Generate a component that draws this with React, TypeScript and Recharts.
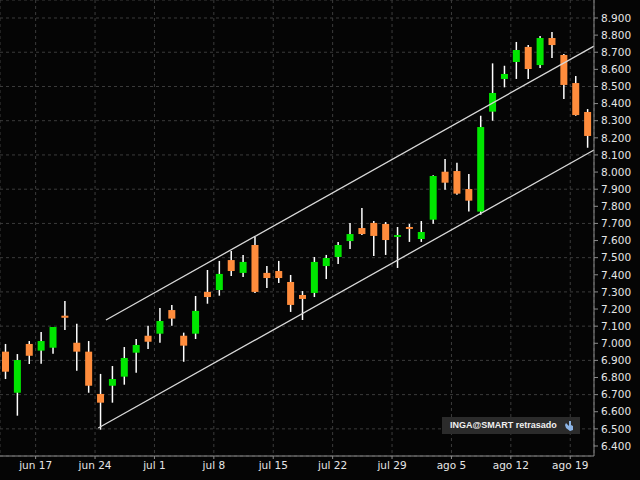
import { ComposedChart, Bar, XAxis, YAxis, CartesianGrid, ReferenceLine } from 'recharts';

// trading days, 12 jun - 20 ago
const dates = [
  'jun 12', 'jun 13', 'jun 14',
  'jun 17', 'jun 18', 'jun 19', 'jun 20', 'jun 21',
  'jun 24', 'jun 25', 'jun 26', 'jun 27', 'jun 28',
  'jul 1', 'jul 2', 'jul 3', 'jul 4', 'jul 5',
  'jul 8', 'jul 9', 'jul 10', 'jul 11', 'jul 12',
  'jul 15', 'jul 16', 'jul 17', 'jul 18', 'jul 19',
  'jul 22', 'jul 23', 'jul 24', 'jul 25', 'jul 26',
  'jul 29', 'jul 30', 'jul 31', 'ago 1', 'ago 2',
  'ago 5', 'ago 6', 'ago 7', 'ago 8', 'ago 9',
  'ago 12', 'ago 13', 'ago 14', 'ago 15', 'ago 16',
  'ago 19', 'ago 20',
];

const open = [
  6.951, 6.711, 6.996, 6.957, 6.974, 7.161, 7.003, 6.951, 6.704, 6.752,
  6.805, 6.945, 7.044, 7.056, 7.194, 7.044, 7.056, 7.3, 7.311, 7.486,
  7.411, 7.574, 7.411, 7.422, 7.358, 7.282, 7.294, 7.451, 7.504, 7.597,
  7.673, 7.703, 7.697, 7.621, 7.679, 7.609, 7.722, 8.002, 8.006, 7.901,
  7.769, 8.353, 8.544, 8.643, 8.731, 8.625, 8.783, 8.684, 8.52, 8.351,
];
const high = [
  6.996, 6.937, 7.013, 7.066, 7.095, 7.247, 7.114, 7.013, 6.821, 6.867,
  6.978, 7.025, 7.103, 7.206, 7.224, 7.062, 7.276, 7.428, 7.481, 7.539,
  7.516, 7.621, 7.451, 7.481, 7.399, 7.305, 7.504, 7.516, 7.592, 7.703,
  7.79, 7.714, 7.708, 7.679, 7.697, 7.714, 7.981, 8.076, 8.055, 7.989,
  8.329, 8.635, 8.621, 8.76, 8.742, 8.795, 8.818, 8.69, 8.561, 8.368,
];
const low = [
  6.791, 6.577, 6.879, 6.881, 6.939, 7.078, 6.84, 6.711, 6.495, 6.653,
  6.758, 6.828, 6.967, 7.003, 7.103, 6.892, 7.025, 7.231, 7.278, 7.393,
  7.387, 7.294, 7.323, 7.352, 7.183, 7.136, 7.27, 7.375, 7.463, 7.551,
  7.632, 7.51, 7.516, 7.44, 7.592, 7.592, 7.698, 7.897, 7.868, 7.769,
  7.751, 8.3, 8.495, 8.544, 8.544, 8.608, 8.666, 8.427, 8.329, 8.142,
];
const close = [
  6.834, 6.902, 6.927, 7.013, 7.095, 7.149, 6.951, 6.752, 6.653, 6.791,
  6.914, 6.99, 7.009, 7.13, 7.144, 6.986, 7.189, 7.27, 7.405, 7.422,
  7.475, 7.3, 7.381, 7.381, 7.224, 7.259, 7.475, 7.498, 7.574, 7.638,
  7.638, 7.627, 7.603, 7.632, 7.668, 7.65, 7.977, 7.938, 7.874, 7.833,
  8.263, 8.462, 8.573, 8.713, 8.602, 8.783, 8.742, 8.509, 8.333, 8.211,
];

// week labels sit on the boundary before each Monday
const weekTicks = [2.5, 7.5, 12.5, 17.5, 22.5, 27.5, 32.5, 37.5, 42.5, 47.5];
const weekLabels = ['jun 17', 'jun 24', 'jul 1', 'jul 8', 'jul 15', 'jul 22', 'jul 29', 'ago 5', 'ago 12', 'ago 19'];

const priceTicks = [
  6.4, 6.5, 6.6, 6.7, 6.8, 6.9, 7.0, 7.1, 7.2, 7.3, 7.4, 7.5, 7.6,
  7.7, 7.8, 7.9, 8.0, 8.1, 8.2, 8.3, 8.4, 8.5, 8.6, 8.7, 8.8, 8.9,
];

// channel lines (day index, price)
const upperChannel = [{ x: 8.42, y: 7.136 }, { x: 49.5, y: 8.736 }];
const lowerChannel = [{ x: 7.77, y: 6.505 }, { x: 49.5, y: 8.129 }];

const rows = dates.map((d, i) => ({
  idx: i,
  date: d,
  open: open[i],
  high: high[i],
  low: low[i],
  close: close[i],
}));

const UP = '#00e600';
const DOWN = '#ff8c3c';

function Candle(props: any) {
  const { x, y, width, height, payload } = props;
  if (!payload) return null;
  const top = Math.min(y, y + height);
  const h = Math.abs(height);
  const range = payload.high - payload.low || 1;
  const toY = (v: number) => top + ((payload.high - v) / range) * h;
  const cx = x + width / 2;
  const bodyTop = toY(Math.max(payload.open, payload.close));
  const bodyBot = toY(Math.min(payload.open, payload.close));
  const up = payload.close >= payload.open;
  return (
    <g>
      <line x1={cx} x2={cx} y1={top} y2={top + h} stroke="#ffffff" strokeWidth={1.5} />
      <rect
        x={cx - width / 2}
        y={bodyTop}
        width={width}
        height={Math.max(bodyBot - bodyTop, 1.5)}
        fill={up ? UP : DOWN}
      />
    </g>
  );
}

export default function App() {
  return (
    <div style={{ position: 'absolute', top: 0, left: 0, width: 640, height: 480, background: '#050505' }}>
      <ComposedChart width={640} height={480} data={rows} margin={{ top: 0, right: 0, bottom: 0, left: 0 }}>
        <CartesianGrid stroke="#3c3c3c" strokeDasharray="3 3" />
        <XAxis
          dataKey="idx"
          type="number"
          domain={[-0.5, 49.5]}
          allowDataOverflow
          ticks={weekTicks}
          tickFormatter={(v: number) => weekLabels[weekTicks.indexOf(v)] ?? ''}
          height={24}
          stroke="#8c8c8c"
          tickSize={3}
          tickMargin={3}
          tick={{ fill: '#e6e6e6', fontSize: 10.5, fontFamily: 'DejaVu Sans' }}
        />
        <YAxis
          orientation="right"
          type="number"
          domain={[6.3415, 9.0051]}
          allowDataOverflow
          ticks={priceTicks}
          tickFormatter={(v: number) => v.toFixed(3)}
          width={46}
          stroke="#8c8c8c"
          tickSize={4}
          tickMargin={3}
          tick={{ fill: '#e6e6e6', fontSize: 10.5, fontFamily: 'DejaVu Sans', textAnchor: 'start' }}
        />
        <Bar
          dataKey={(r: any) => [r.low, r.high]}
          barSize={7}
          shape={<Candle />}
          isAnimationActive={false}
        />
        <ReferenceLine segment={upperChannel} stroke="#d8d8d8" strokeWidth={1.3} ifOverflow="visible" />
        <ReferenceLine segment={lowerChannel} stroke="#d8d8d8" strokeWidth={1.3} ifOverflow="visible" />
      </ComposedChart>
      <div
        style={{
          position: 'absolute',
          left: 442,
          top: 417,
          width: 138,
          height: 17,
          background: '#2b2b2b',
          color: '#f0f0f0',
          fontFamily: '"Liberation Sans", Arial, sans-serif',
          fontWeight: 'bold',
          fontSize: 9,
          lineHeight: '17px',
          paddingLeft: 8,
          boxSizing: 'border-box',
          whiteSpace: 'nowrap',
        }}
      >
        INGA@SMART retrasado
        <svg width={10} height={11} style={{ position: 'absolute', left: 122, top: 4 }}>
          <path d="M2 2 L5 5 L5 0 L7 0 L7 4 L9 5 L9 9 L6 10 L2 7 L1 4 Z" fill="#8cb4e6" />
        </svg>
      </div>
    </div>
  );
}
